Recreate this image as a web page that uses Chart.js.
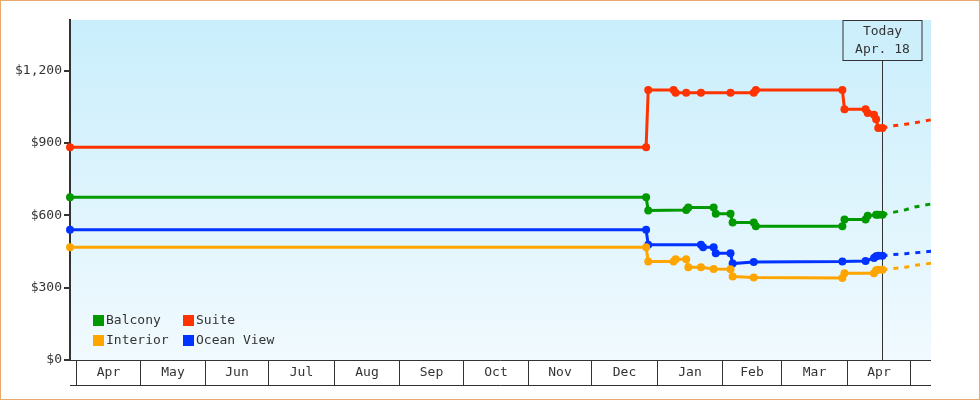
<!DOCTYPE html>
<html>
<head>
<meta charset="utf-8">
<script src="https://cdn.jsdelivr.net/npm/chart.js@4/dist/chart.umd.min.js"></script>
<style>
  html, body { margin: 0; padding: 0; background: #fff; }
  canvas { display: block; }
</style>
</head>
<body>
<canvas id="priceChart" width="980" height="400"></canvas>
<script>
// price history, one array of dates and one of prices per cabin type
const balconyDates = ['2022-03-29', '2022-12-27', '2022-12-28', '2023-01-15', '2023-01-16', '2023-01-28', '2023-01-29', '2023-02-05', '2023-02-06', '2023-02-16', '2023-02-17', '2023-03-30', '2023-03-31', '2023-04-10', '2023-04-11', '2023-04-15', '2023-04-16', '2023-04-18'];
const balconyPrices = [675, 675, 620, 622, 632, 632, 606, 606, 570, 570, 555, 555, 583, 583, 598, 602, 602, 602];

const suiteDates = ['2022-03-29', '2022-12-27', '2022-12-28', '2023-01-09', '2023-01-10', '2023-01-15', '2023-01-22', '2023-02-05', '2023-02-16', '2023-02-17', '2023-03-30', '2023-03-31', '2023-04-10', '2023-04-11', '2023-04-14', '2023-04-15', '2023-04-16', '2023-04-18'];
const suitePrices = [882, 882, 1120, 1120, 1108, 1108, 1108, 1108, 1108, 1120, 1120, 1040, 1040, 1024, 1017, 998, 962, 962];

const interiorDates = ['2022-03-29', '2022-12-27', '2022-12-28', '2023-01-09', '2023-01-10', '2023-01-15', '2023-01-16', '2023-01-22', '2023-01-28', '2023-02-05', '2023-02-06', '2023-02-16', '2023-03-30', '2023-03-31', '2023-04-14', '2023-04-15', '2023-04-16', '2023-04-18'];
const interiorPrices = [468, 468, 408, 408, 418, 418, 385, 385, 377, 376, 346, 342, 340, 360, 360, 372, 374, 374];

const oceanDates = ['2022-03-29', '2022-12-27', '2022-12-28', '2023-01-22', '2023-01-23', '2023-01-28', '2023-01-29', '2023-02-05', '2023-02-06', '2023-02-16', '2023-03-30', '2023-04-10', '2023-04-14', '2023-04-15', '2023-04-16', '2023-04-18'];
const oceanPrices = [540, 540, 478, 478, 468, 468, 443, 443, 400, 406, 408, 411, 423, 430, 432, 432];

// forecast after today
const forecastDates = ['2023-04-18', '2023-04-23', '2023-04-29', '2023-05-03', '2023-05-08', '2023-05-11'];
const balconyForecast = [602, 612, 623, 634, 642, 647];
const suiteForecast = [962, 971, 978, 983, 991, 996];
const interiorForecast = [374, 379, 385, 392, 398, 401];
const oceanForecast = [432, 437, 441, 444, 448, 451];

const monthStarts = ['2022-04-01', '2022-05-01', '2022-06-01', '2022-07-01', '2022-08-01', '2022-09-01', '2022-10-01', '2022-11-01', '2022-12-01', '2023-01-01', '2023-02-01', '2023-03-01', '2023-04-01', '2023-05-01'];
const monthLabels = ['Apr', 'May', 'Jun', 'Jul', 'Aug', 'Sep', 'Oct', 'Nov', 'Dec', 'Jan', 'Feb', 'Mar', 'Apr'];
const yTicks = [0, 300, 600, 900, 1200];

const startDate = '2022-03-29';
const endDate = '2023-05-11';
const todayDate = '2023-04-18';
const todayLabel = ['Today', 'Apr. 18'];

const FONT = 'DejaVu Sans Mono';
const INK = '#333333';

function toDay(s) {
  const p = s.split('-').map(Number);
  return (Date.UTC(p[0], p[1] - 1, p[2]) - Date.UTC(2022, 3, 1)) / 86400000;
}

function points(dates, prices) {
  return dates.map((d, i) => ({ x: toDay(d), y: prices[i] }));
}

function series(label, color, dates, prices) {
  return {
    label: label,
    data: points(dates, prices),
    borderColor: color,
    backgroundColor: color,
    borderWidth: 3,
    pointRadius: 4,
    pointHoverRadius: 4,
    pointBorderWidth: 0,
    pointStyle: 'circle',
    tension: 0,
    clip: false
  };
}

function forecast(color, prices) {
  return {
    label: '',
    data: points(forecastDates, prices),
    borderColor: color,
    borderWidth: 3,
    borderDash: [5, 6],
    pointRadius: 0,
    tension: 0,
    forecast: true
  };
}

const colors = { balcony: '#009900', suite: '#ff3300', interior: '#ffa500', ocean: '#0033ff' };

// background gradient + today marker (under the lines)
const backdrop = {
  id: 'backdrop',
  beforeDraw(chart) {
    const { ctx, chartArea: a } = chart;
    const g = ctx.createLinearGradient(0, a.top, 0, a.bottom);
    g.addColorStop(0, '#c9eefc');
    g.addColorStop(1, '#f1fafe');
    ctx.save();
    ctx.fillStyle = g;
    ctx.fillRect(a.left, a.top, a.right - a.left, a.bottom - a.top);
    ctx.restore();
  },
  beforeDatasetsDraw(chart) {
    const { ctx, chartArea: a, scales } = chart;
    const x = Math.round(scales.x.getPixelForValue(toDay(todayDate))) + 0.5;
    const boxW = 79, boxH = 40;
    ctx.save();
    ctx.strokeStyle = INK;
    ctx.lineWidth = 1;
    ctx.beginPath();
    ctx.moveTo(x, a.top + boxH);
    ctx.lineTo(x, a.bottom);
    ctx.stroke();
    ctx.fillStyle = '#cdeffc';
    ctx.fillRect(x - boxW / 2, a.top, boxW, boxH);
    ctx.strokeRect(x - boxW / 2, a.top + 0.5, boxW, boxH);
    ctx.fillStyle = INK;
    ctx.font = '13px ' + FONT;
    ctx.textAlign = 'center';
    ctx.textBaseline = 'middle';
    ctx.fillText(todayLabel[0], x, a.top + 12);
    ctx.fillText(todayLabel[1], x, a.top + 30);
    ctx.restore();
  }
};

// month bands under the plot, legend, page frame
const overlay = {
  id: 'overlay',
  afterDraw(chart) {
    const { ctx, chartArea: a, scales } = chart;
    const xs = scales.x;
    const bandBottom = a.bottom + 25;
    ctx.save();
    ctx.strokeStyle = INK;
    ctx.lineWidth = 1;
    ctx.beginPath();
    ctx.moveTo(a.left, a.bottom + 0.5);
    ctx.lineTo(a.right, a.bottom + 0.5);
    ctx.moveTo(a.left, bandBottom + 0.5);
    ctx.lineTo(a.right, bandBottom + 0.5);
    const px = monthStarts.map(d => Math.round(xs.getPixelForValue(toDay(d))) + 0.5);
    px.forEach(p => {
      ctx.moveTo(p, a.bottom);
      ctx.lineTo(p, bandBottom);
    });
    ctx.stroke();
    ctx.fillStyle = INK;
    ctx.font = '13px ' + FONT;
    ctx.textAlign = 'center';
    ctx.textBaseline = 'middle';
    monthLabels.forEach((m, i) => {
      ctx.fillText(m, (px[i] + px[i + 1]) / 2, a.bottom + 13);
    });

    // legend, two columns
    const items = chart.data.datasets.filter(d => !d.forecast);
    const order = ['Balcony', 'Suite', 'Interior', 'Ocean View'];
    ctx.textAlign = 'left';
    order.forEach((name, i) => {
      const ds = items.find(d => d.label === name);
      const col = i % 2, row = Math.floor(i / 2);
      const lx = a.left + 23 + col * 90;
      const ly = a.bottom - 45 + row * 20;
      ctx.fillStyle = ds.borderColor;
      ctx.fillRect(lx, ly, 11, 11);
      ctx.fillStyle = INK;
      ctx.fillText(name, lx + 13, ly + 6);
    });

    ctx.strokeStyle = '#e8aa6c';
    ctx.strokeRect(0.5, 0.5, chart.width - 1, chart.height - 1);
    ctx.restore();
  }
};

const chart = new Chart(document.getElementById('priceChart').getContext('2d'), {
  type: 'line',
  data: {
    datasets: [
      forecast(colors.interior, interiorForecast),
      forecast(colors.ocean, oceanForecast),
      forecast(colors.balcony, balconyForecast),
      forecast(colors.suite, suiteForecast),
      series('Interior', colors.interior, interiorDates, interiorPrices),
      series('Ocean View', colors.ocean, oceanDates, oceanPrices),
      series('Balcony', colors.balcony, balconyDates, balconyPrices),
      series('Suite', colors.suite, suiteDates, suitePrices)
    ]
  },
  options: {
    responsive: false,
    animation: false,
    devicePixelRatio: 1,
    layout: { padding: { top: 20, right: 49, bottom: 40, left: 0 } },
    plugins: {
      legend: { display: false },
      tooltip: { enabled: false }
    },
    scales: {
      x: {
        type: 'linear',
        display: false,
        min: toDay(startDate),
        max: toDay(endDate)
      },
      y: {
        min: 0,
        max: 1410,
        afterBuildTicks: axis => { axis.ticks = yTicks.map(v => ({ value: v })); },
        afterFit: axis => { axis.width = 70; },
        border: { display: true, color: INK, width: 2 },
        grid: { drawOnChartArea: false, color: INK, lineWidth: 2, tickLength: 6 },
        ticks: {
          padding: 2,
          color: INK,
          font: { family: FONT, size: 13 },
          callback: v => '$' + v.toLocaleString('en-US')
        }
      }
    }
  },
  plugins: [backdrop, overlay]
});
</script>
</body>
</html>
